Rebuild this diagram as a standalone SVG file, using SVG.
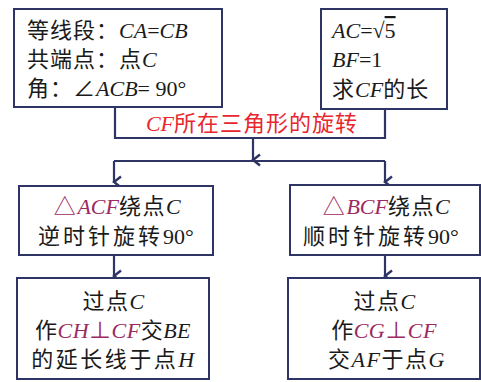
<svg xmlns="http://www.w3.org/2000/svg" width="481" height="382" viewBox="0 0 481 382">
<style>
  .box { fill: #ffffff; stroke: #2e3566; stroke-width: 2; }
  .line { fill: none; stroke: #2e3566; stroke-width: 2.2; }
  .t { font-family: "Liberation Serif", "Noto Sans CJK SC", serif; font-size: 22px; fill: #1a1a1a; }
  .i { font-style: italic; }
  .red { fill: #e8262e; }
  .pur { fill: #9b2a60; }
  .m { text-anchor: middle; }
  .n { letter-spacing: 0; }
</style>
<defs>
  <marker id="arr" markerWidth="14" markerHeight="14" refX="7" refY="11" orient="auto" markerUnits="userSpaceOnUse" viewBox="0 0 14 14">
    <path d="M1.5,4 L7,11 L12.5,4" fill="none" stroke="#2e3566" stroke-width="2.4"/>
  </marker>
</defs>
<rect width="481" height="382" fill="#ffffff"/>

<g id="connectors">
  <path class="line" d="M115,107 V138 H385 V109"/>
  <path class="line" d="M253,138 V160" marker-end="url(#arr)"/>
  <path class="line" d="M114,161 H385"/>
  <path class="line" d="M114,161 V182" marker-end="url(#arr)"/>
  <path class="line" d="M385,161 V182" marker-end="url(#arr)"/>
  <path class="line" d="M114,255 V276" marker-end="url(#arr)"/>
  <path class="line" d="M385,255 V276" marker-end="url(#arr)"/>
</g>

<g id="node-given">
  <rect class="box" x="14" y="9" width="208" height="98"/>
  <text class="t" x="27" y="38" letter-spacing="1">等线段：<tspan class="i n">CA</tspan><tspan class="n">=</tspan><tspan class="i n">CB</tspan></text>
  <text class="t" x="27" y="67" letter-spacing="1">共端点：点<tspan class="i">C</tspan></text>
  <text class="t" x="27" y="96" letter-spacing="1">角：∠<tspan class="i n">ACB</tspan><tspan class="n">= 90°</tspan></text>
</g>

<g id="node-data">
  <rect class="box" x="321" y="9" width="126" height="100"/>
  <text class="t" x="332" y="38"><tspan class="i">AC</tspan>=√<tspan text-decoration="overline">5</tspan></text>
  <text class="t" x="332" y="67"><tspan class="i">BF</tspan>=1</text>
  <text class="t" x="332" y="97" letter-spacing="1">求<tspan class="i n">CF</tspan>的长</text>
</g>

<g id="node-rotate">
  <text class="t red m" x="252" y="131" letter-spacing="1"><tspan class="i n">CF</tspan>所在三角形的旋转</text>
</g>

<g id="node-acf">
  <rect class="box" x="19" y="186" width="194" height="69"/>
  <text class="t m" x="118" y="214" letter-spacing="1.5"><tspan class="pur">△<tspan class="i n">ACF</tspan></tspan>绕点<tspan class="i">C</tspan></text>
  <text class="t m" x="116" y="244" letter-spacing="3">逆时针旋转<tspan class="n">90°</tspan></text>
</g>

<g id="node-bcf">
  <rect class="box" x="290" y="185" width="190" height="70"/>
  <text class="t m" x="387" y="214" letter-spacing="1.5"><tspan class="pur">△<tspan class="i n">BCF</tspan></tspan>绕点<tspan class="i">C</tspan></text>
  <text class="t m" x="381" y="244" letter-spacing="3">顺时针旋转<tspan class="n">90°</tspan></text>
</g>

<g id="node-h">
  <rect class="box" x="17" y="278" width="192" height="101"/>
  <text class="t m" x="114" y="309" letter-spacing="1.5">过点<tspan class="i">C</tspan></text>
  <text class="t m" x="113" y="338" letter-spacing="0.5">作<tspan class="pur i">CH</tspan><tspan class="pur">⊥</tspan><tspan class="pur i">CF</tspan>交<tspan class="i">BE</tspan></text>
  <text class="t m" x="114" y="367" letter-spacing="2.5">的延长线于点<tspan class="i">H</tspan></text>
</g>

<g id="node-g">
  <rect class="box" x="288" y="278" width="192" height="101"/>
  <text class="t m" x="385" y="309" letter-spacing="1.5">过点<tspan class="i">C</tspan></text>
  <text class="t m" x="384" y="338" letter-spacing="0.5">作<tspan class="pur i">CG</tspan><tspan class="pur">⊥</tspan><tspan class="pur i">CF</tspan></text>
  <text class="t m" x="387" y="367" letter-spacing="1.5">交<tspan class="i">AF</tspan>于点<tspan class="i">G</tspan></text>
</g>
</svg>
